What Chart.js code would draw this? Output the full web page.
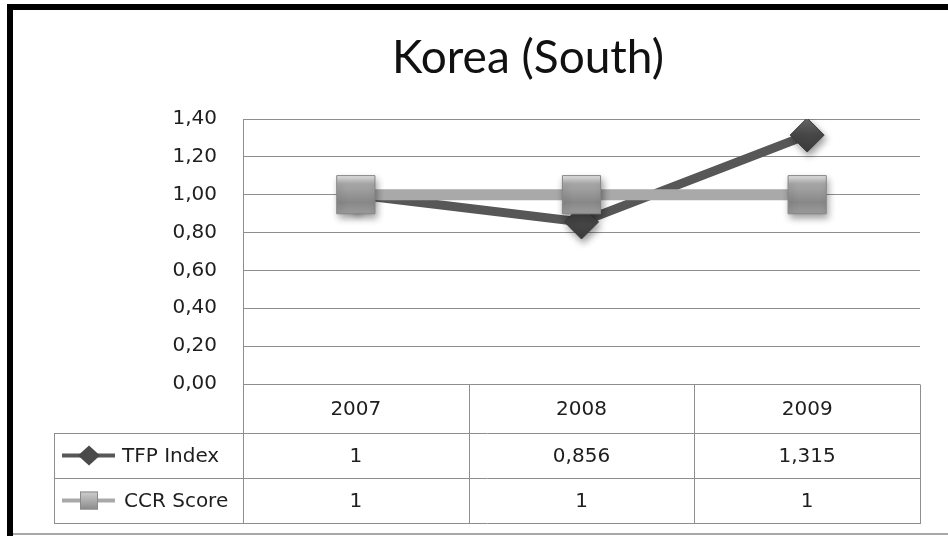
<!DOCTYPE html>
<html>
<head>
<meta charset="utf-8">
<script src="https://cdn.jsdelivr.net/npm/chart.js@4/dist/chart.umd.min.js"></script>
<style>
  html, body { margin: 0; padding: 0; background: #fff; }
  #wrap { width: 948px; height: 536px; position: relative; }
</style>
</head>
<body>
<div id="wrap"><canvas id="c"></canvas></div>
<script>
// ---- data ----
const chartTitle = 'Korea (South)';
const years = ['2007', '2008', '2009'];
const seriesNames = ['TFP Index', 'CCR Score'];
const tfpIndex = [1, 0.856, 1.315];
const ccrScore = [1, 1, 1];
const yTicks = [0, 0.2, 0.4, 0.6, 0.8, 1.0, 1.2, 1.4];

// ---- helpers ----
const fmt = v => String(v).replace('.', ',');
const fmt2 = v => v.toFixed(2).replace('.', ',');
const tableFont = '20px "DejaVu Sans"';
const gridColor = '#8e8e8e';
const tfpLine = '#575757';
const tfpMark = '#4a4a4a';
const ccrLine = '#a9a9a9';

function markerY(ctx) {
  const y = ctx.chart.scales && ctx.chart.scales.y;
  if (!y || !ctx.parsed) return NaN;
  return y.getPixelForValue(ctx.parsed.y);
}
function squareFill(ctx) {
  const py = markerY(ctx);
  if (!isFinite(py)) return '#9a9a9a';
  const g = ctx.chart.ctx.createLinearGradient(0, py - 19, 0, py + 19);
  g.addColorStop(0, '#e6e6e6');
  g.addColorStop(0.22, '#a8a8a8');
  g.addColorStop(0.7, '#888888');
  g.addColorStop(1, '#9c9c9c');
  return g;
}
function diamondFill(ctx) {
  const py = markerY(ctx);
  if (!isFinite(py)) return tfpMark;
  const g = ctx.chart.ctx.createLinearGradient(0, py - 17, 0, py + 17);
  g.addColorStop(0, '#6a6a6a');
  g.addColorStop(0.5, '#474747');
  g.addColorStop(1, '#3c3c3c');
  return g;
}

// soft drop shadow under the markers
const markerShadow = {
  id: 'markerShadow',
  beforeDatasetDraw(chart, args) {
    const ds = chart.data.datasets[args.index];
    if (!ds.isMarker) return;
    const c = chart.ctx;
    c.save();
    c.shadowColor = 'rgba(0,0,0,0.38)';
    c.shadowBlur = 7;
    c.shadowOffsetX = 2;
    c.shadowOffsetY = 4;
  },
  afterDatasetDraw(chart, args) {
    const ds = chart.data.datasets[args.index];
    if (!ds.isMarker) return;
    chart.ctx.restore();
  }
};

// frame and title
const frame = {
  id: 'frame',
  beforeDraw(chart) {
    const c = chart.ctx;
    c.save();
    c.fillStyle = '#fff';
    c.fillRect(0, 0, chart.width, chart.height);
    c.fillStyle = '#000';
    c.fillRect(7, 4, chart.width - 7, 6);
    c.fillRect(7, 4, 6, chart.height - 4);
    c.fillStyle = '#a8a8a8';
    c.fillRect(13, 533, chart.width - 13, 2);
    c.fillStyle = '#111';
    c.font = '46px Lato';
    c.textAlign = 'center';
    c.textBaseline = 'alphabetic';
    c.fillText(chartTitle, 528, 73);
    c.restore();
  }
};

// data table under the plot
const dataTable = {
  id: 'dataTable',
  afterDraw(chart) {
    const c = chart.ctx;
    const a = chart.chartArea;
    const x = chart.scales.x;
    const rows = [a.bottom, a.bottom + 49, a.bottom + 94, a.bottom + 139];
    const legendLeft = 54;
    const colW = (a.right - a.left) / years.length;
    const px = v => Math.round(v) + 0.5;

    c.save();
    c.strokeStyle = gridColor;
    c.lineWidth = 1;
    c.beginPath();
    for (let r = 1; r < rows.length; r++) {
      c.moveTo(legendLeft, px(rows[r]));
      c.lineTo(a.right + 1, px(rows[r]));
    }
    c.moveTo(px(legendLeft), px(rows[1]));
    c.lineTo(px(legendLeft), px(rows[3]));
    for (let i = 0; i <= years.length; i++) {
      const xx = px(a.left + i * colW);
      c.moveTo(xx, px(rows[0]));
      c.lineTo(xx, px(rows[3]));
    }
    c.stroke();

    c.fillStyle = '#1e1e1e';
    c.font = tableFont;
    c.textAlign = 'center';
    c.textBaseline = 'middle';
    const rowMid = i => (rows[i] + rows[i + 1]) / 2 + 1;
    years.forEach((yr, i) => {
      const cx = x.getPixelForValue(i);
      c.fillText(yr, cx, rowMid(0));
      c.fillText(fmt(tfpIndex[i]), cx, rowMid(1));
      c.fillText(fmt(ccrScore[i]), cx, rowMid(2));
    });

    // legend keys
    c.textAlign = 'left';
    c.fillText(seriesNames[0], 122, rowMid(1));
    c.fillText(seriesNames[1], 124, rowMid(2));

    const k1 = rowMid(1) - 1, k2 = rowMid(2) - 1;
    c.lineWidth = 4;
    c.strokeStyle = tfpLine;
    c.beginPath(); c.moveTo(62, k1); c.lineTo(115, k1); c.stroke();
    c.fillStyle = tfpMark;
    c.beginPath();
    c.moveTo(89, k1 - 10); c.lineTo(100, k1); c.lineTo(89, k1 + 10); c.lineTo(78, k1);
    c.closePath(); c.fill();

    c.strokeStyle = ccrLine;
    c.beginPath(); c.moveTo(62, k2); c.lineTo(115, k2); c.stroke();
    const g = c.createLinearGradient(0, k2 - 9, 0, k2 + 9);
    g.addColorStop(0, '#cfcfcf'); g.addColorStop(1, '#8a8a8a');
    c.fillStyle = g;
    c.fillRect(80, k2 - 9, 18, 18);
    c.lineWidth = 1;
    c.strokeStyle = '#8a8a8a';
    c.strokeRect(80.5, k2 - 8.5, 17, 17);
    c.restore();
  }
};

new Chart(document.getElementById('c'), {
  type: 'line',
  data: {
    labels: years,
    datasets: [
      { label: seriesNames[0], data: tfpIndex, borderColor: tfpLine, borderWidth: 9,
        pointRadius: 0, order: 3, borderJoinStyle: 'miter' },
      { label: seriesNames[0], data: tfpIndex, showLine: false, isMarker: true,
        pointStyle: 'rectRot', pointRadius: 17, pointBackgroundColor: diamondFill,
        pointBorderColor: '#3a3a3a', pointBorderWidth: 1, order: 2 },
      { label: seriesNames[1], data: ccrScore, borderColor: ccrLine, borderWidth: 11,
        pointRadius: 0, order: 1 },
      { label: seriesNames[1], data: ccrScore, showLine: false, isMarker: true,
        pointStyle: 'rect', pointRadius: 27, pointBackgroundColor: squareFill,
        pointBorderColor: '#858585', pointBorderWidth: 1, order: 0 }
    ]
  },
  options: {
    responsive: true,
    maintainAspectRatio: false,
    animation: false,
    events: [],
    layout: { padding: { top: 119, right: 24, bottom: 152, left: 0 } },
    plugins: { legend: { display: false }, title: { display: false }, tooltip: { enabled: false } },
    scales: {
      x: {
        offset: true,
        grid: { display: false, drawTicks: false },
        border: { display: false },
        ticks: { display: false }
      },
      y: {
        min: 0, max: 1.4,
        afterFit(s) { s.width = 243; },
        afterBuildTicks(s) { s.ticks = yTicks.map(v => ({ value: v })); },
        grid: { color: gridColor, lineWidth: 1, drawTicks: false, tickLength: 0 },
        border: { display: true, color: gridColor, width: 1 },
        ticks: {
          padding: 26,
          color: '#1e1e1e',
          font: { family: 'DejaVu Sans', size: 20 },
          callback: v => fmt2(v)
        }
      }
    }
  },
  plugins: [frame, markerShadow, dataTable]
});
</script>
</body>
</html>
